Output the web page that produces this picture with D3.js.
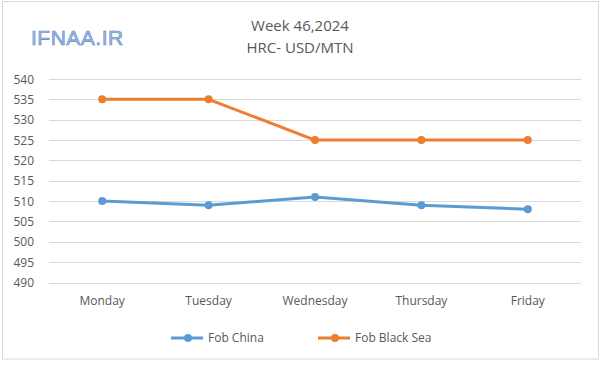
<!DOCTYPE html>
<html>
<head>
<meta charset="utf-8">
<script src="https://cdn.jsdelivr.net/npm/d3@7"></script>
<style>
  body { margin: 0; background: #fff; }
  svg { display: block; font-family: "Open Sans", "Liberation Sans", sans-serif; }
</style>
</head>
<body>
<div id="chart"></div>
<script>
// data //
const days = ['Monday', 'Tuesday', 'Wednesday', 'Thursday', 'Friday']
const fobChina = [510, 509, 511, 509, 508]
const fobBlackSea = [535, 535, 525, 525, 525]
const yTicks = [490, 495, 500, 505, 510, 515, 520, 525, 530, 535, 540]
const seriesNames = ['Fob China', 'Fob Black Sea']
const seriesColors = ['#5b9bd5', '#ed7d31']

const width = 600
const height = 371
const plot = { left: 49, right: 581, top: 79, bottom: 282.5 }

const svg = d3.select('#chart').append('svg')
  .attr('width', width)
  .attr('height', height)

// frame
svg.append('rect')
  .attr('x', 2.5).attr('y', 1.5)
  .attr('width', 596).attr('height', 357.5)
  .attr('fill', '#fff')
  .attr('stroke', '#d9d9d9')

// logo
svg.append('text')
  .attr('x', 31).attr('y', 45)
  .attr('font-family', 'Liberation Sans, Arial, sans-serif')
  .attr('font-size', 21)
  .attr('fill', '#9dbde6')
  .attr('stroke', '#5a87c2')
  .attr('stroke-width', 0.6)
  .attr('letter-spacing', 0.5)
  .text('IFNAA.IR')

// titles
svg.append('text')
  .attr('x', 300).attr('y', 31)
  .attr('text-anchor', 'middle')
  .attr('font-size', 15)
  .attr('fill', '#595959')
  .text('Week 46,2024')
svg.append('text')
  .attr('x', 300).attr('y', 53)
  .attr('text-anchor', 'middle')
  .attr('font-size', 15)
  .attr('fill', '#595959')
  .text('HRC- USD/MTN')

const x = d3.scaleBand()
  .domain(days)
  .range([plot.left, plot.right])

const y = d3.scaleLinear()
  .domain([490, 540])
  .range([plot.bottom, plot.top])

// gridlines
svg.append('g')
  .selectAll('line')
  .data(yTicks)
  .enter()
  .append('line')
  .attr('x1', plot.left).attr('x2', plot.right)
  .attr('y1', d => Math.round(y(d)) + 0.5)
  .attr('y2', d => Math.round(y(d)) + 0.5)
  .attr('stroke', '#d9d9d9')

// y labels
svg.append('g')
  .selectAll('text')
  .data(yTicks)
  .enter()
  .append('text')
  .attr('x', 34)
  .attr('y', d => y(d) + 4.5)
  .attr('text-anchor', 'end')
  .attr('font-size', 12)
  .attr('fill', '#595959')
  .text(d => d)

// x labels
svg.append('g')
  .selectAll('text')
  .data(days)
  .enter()
  .append('text')
  .attr('x', d => x(d) + x.bandwidth() / 2)
  .attr('y', 305)
  .attr('text-anchor', 'middle')
  .attr('font-size', 12)
  .attr('fill', '#595959')
  .text(d => d)

// lines
const series = [fobChina, fobBlackSea]
const line = d3.line()
  .x((d, i) => x(days[i]) + x.bandwidth() / 2)
  .y(d => y(d))

series.forEach((values, s) => {
  const g = svg.append('g')
  g.append('path')
    .datum(values)
    .attr('d', line)
    .attr('fill', 'none')
    .attr('stroke', seriesColors[s])
    .attr('stroke-width', 3)
    .attr('stroke-linejoin', 'round')
    .attr('stroke-linecap', 'round')
  g.selectAll('circle')
    .data(values)
    .enter()
    .append('circle')
    .attr('cx', (d, i) => x(days[i]) + x.bandwidth() / 2)
    .attr('cy', d => y(d))
    .attr('r', 4)
    .attr('fill', seriesColors[s])
})

// legend
const legendX = [171, 318]
const legend = svg.append('g')
seriesNames.forEach((name, i) => {
  legend.append('line')
    .attr('x1', legendX[i]).attr('x2', legendX[i] + 32)
    .attr('y1', 338).attr('y2', 338)
    .attr('stroke', seriesColors[i])
    .attr('stroke-width', 3)
  legend.append('circle')
    .attr('cx', legendX[i] + 17).attr('cy', 338)
    .attr('r', 4)
    .attr('fill', seriesColors[i])
  legend.append('text')
    .attr('x', legendX[i] + 37).attr('y', 342)
    .attr('font-size', 12)
    .attr('fill', '#595959')
    .text(name)
})
</script>
</body>
</html>
